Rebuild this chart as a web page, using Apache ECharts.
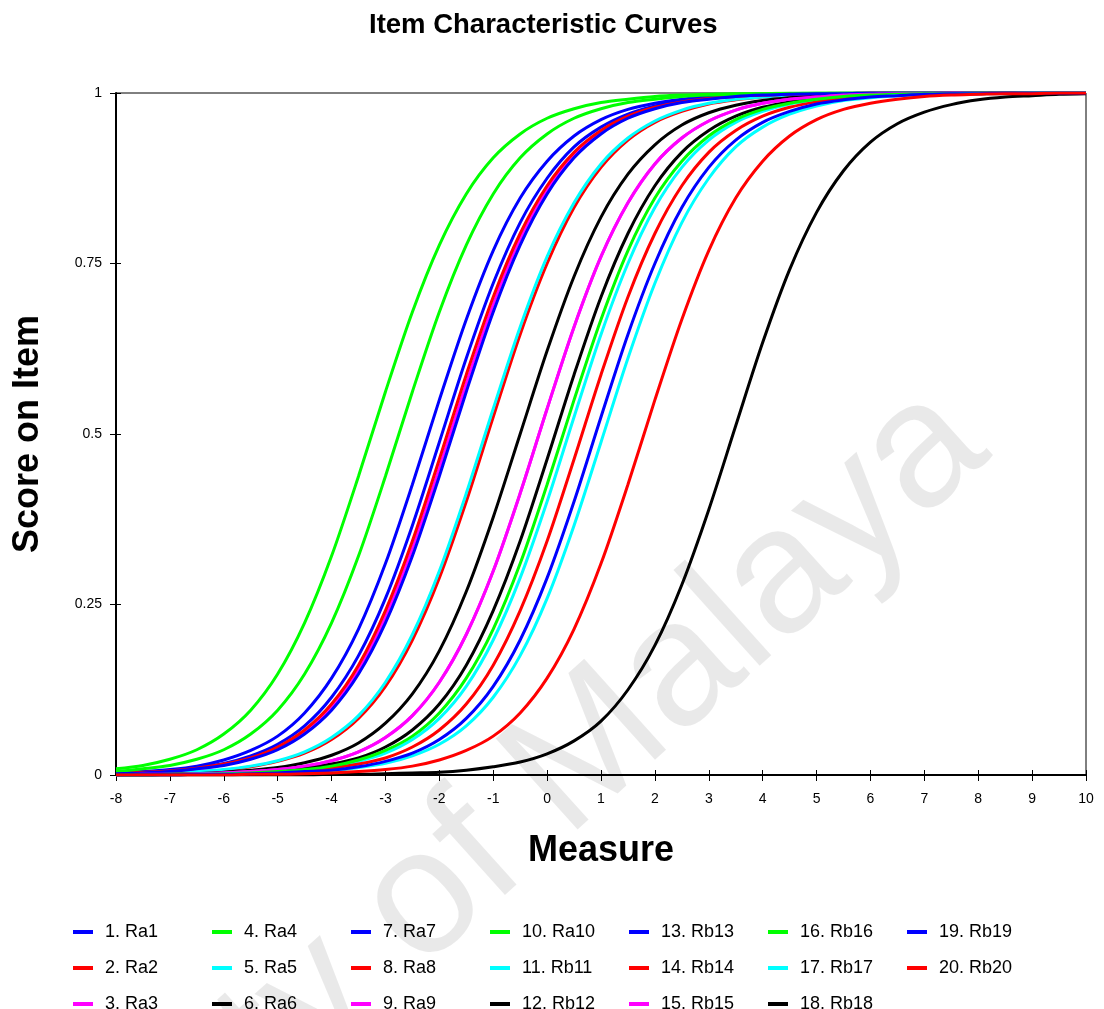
<!DOCTYPE html>
<html>
<head>
<meta charset="utf-8">
<script src="https://cdn.jsdelivr.net/npm/echarts@6/dist/echarts.min.js"></script>
<style>
html,body{margin:0;padding:0;background:#fff;}
#chart{width:1104px;height:1009px;}
</style>
</head>
<body>
<div id="chart"></div>
<script>
// Measure values (x) where each curve was read, and axis tick labels
const xValues = [-8,-7.5,-7,-6.5,-6,-5.5,-5,-4.5,-4,-3.5,-3,-2.5,-2,-1.5,-1,-0.5,0,0.5,1,1.5,2,2.5,3,3.5,4,4.5,5,5.5,6,6.5,7,7.5,8,8.5,9,9.5,10];
const xTickLabels = ['-8','-7','-6','-5','-4','-3','-2','-1','0','1','2','3','4','5','6','7','8','9','10'];
const yTickLabels = ['0','0.25','0.5','0.75','1'];

// Item names (legend order 1..20)
const itemNames = ['1. Ra1','2. Ra2','3. Ra3','4. Ra4','5. Ra5','6. Ra6','7. Ra7','8. Ra8','9. Ra9','10. Ra10',
  '11. Rb11','12. Rb12','13. Rb13','14. Rb14','15. Rb15','16. Rb16','17. Rb17','18. Rb18','19. Rb19','20. Rb20'];
const itemColors = ['#0000ff','#ff0000','#ff00ff','#00ff00','#00ffff','#000000','#0000ff','#ff0000','#ff00ff','#00ff00',
  '#00ffff','#000000','#0000ff','#ff0000','#ff00ff','#00ff00','#00ffff','#000000','#0000ff','#ff0000'];

// Score on item read at each measure value (x = -8 ... 10, step 0.5)
const ra1  = [.003,.005,.008,.013,.022,.036,.057,.091,.142,.214,.310,.426,.550,.668,.769,.846,.900,.937,.961,.976,.985,.991,.995,.997,.998,.999,.999,1,1,1,1,1,1,1,1,1,1];
const ra2  = [.001,.002,.003,.005,.007,.012,.020,.032,.052,.083,.130,.198,.289,.401,.525,.646,.750,.832,.891,.931,.957,.973,.984,.990,.994,.996,.998,.999,.999,1,1,1,1,1,1,1,1];
const ra3  = [.002,.003,.006,.009,.015,.024,.039,.063,.100,.155,.232,.332,.450,.574,.690,.786,.858,.909,.943,.964,.978,.987,.992,.995,.997,.998,.999,.999,1,1,1,1,1,1,1,1,1];
const ra4  = [.009,.014,.023,.037,.060,.095,.148,.223,.321,.438,.562,.679,.777,.852,.905,.940,.963,.977,.986,.991,.995,.997,.998,.999,.999,1,1,1,1,1,1,1,1,1,1,1,1];
const ra5  = [.001,.002,.003,.005,.008,.013,.021,.034,.055,.087,.136,.206,.299,.413,.537,.657,.760,.839,.896,.934,.959,.975,.985,.991,.994,.997,.998,.999,.999,1,1,1,1,1,1,1,1];
const ra6  = [.001,.001,.002,.002,.004,.007,.011,.018,.029,.047,.076,.119,.182,.269,.378,.500,.622,.731,.818,.881,.924,.953,.971,.982,.989,.993,.996,.998,.998,.999,.999,1,1,1,1,1,1];
const ra7  = [.002,.004,.006,.011,.017,.028,.045,.072,.114,.175,.259,.366,.488,.611,.721,.810,.875,.921,.950,.969,.981,.989,.993,.996,.997,.998,.999,.999,1,1,1,1,1,1,1,1,1];
const ra8  = [.002,.004,.006,.010,.016,.025,.041,.066,.104,.161,.241,.343,.463,.587,.701,.794,.864,.913,.945,.966,.979,.987,.992,.995,.997,.998,.999,.999,1,1,1,1,1,1,1,1,1];
const ra9  = [0,.001,.001,.002,.003,.005,.008,.013,.021,.034,.055,.087,.136,.206,.299,.413,.537,.657,.760,.839,.896,.934,.959,.975,.985,.991,.994,.997,.998,.999,.999,1,1,1,1,1,1];
const ra10 = [.005,.009,.014,.023,.037,.060,.095,.148,.223,.321,.438,.562,.679,.777,.852,.905,.940,.963,.977,.986,.991,.995,.997,.998,.999,.999,1,1,1,1,1,1,1,1,1,1,1];
const rb11 = [0,0,.001,.001,.002,.003,.005,.007,.012,.020,.032,.052,.083,.130,.198,.289,.401,.525,.646,.750,.832,.891,.931,.957,.973,.984,.990,.994,.996,.998,.999,.999,1,1,1,1,1];
const rb12 = [0,0,.001,.001,.002,.004,.006,.010,.016,.025,.041,.066,.104,.161,.241,.343,.463,.587,.701,.794,.864,.913,.945,.966,.979,.987,.992,.995,.997,.998,.999,.999,1,1,1,1,1];
const rb13 = [.002,.003,.005,.009,.014,.023,.037,.060,.095,.148,.223,.321,.438,.562,.679,.777,.852,.905,.940,.963,.977,.986,.991,.995,.997,.998,.999,.999,1,1,1,1,1,1,1,1,1];
const rb14 = [0,0,0,.001,.001,.002,.004,.006,.010,.016,.025,.041,.066,.104,.161,.241,.343,.463,.587,.701,.794,.864,.913,.945,.966,.979,.987,.992,.995,.997,.998,.999,.999,1,1,1,1];
const rb15 = [0,.001,.001,.002,.003,.005,.008,.013,.021,.034,.055,.087,.136,.206,.299,.413,.537,.657,.760,.839,.896,.934,.959,.975,.985,.991,.994,.997,.998,.999,.999,1,1,1,1,1,1];
const rb16 = [0,0,.001,.001,.002,.003,.005,.008,.013,.022,.036,.057,.091,.142,.214,.310,.426,.550,.668,.769,.846,.900,.937,.961,.976,.985,.991,.995,.997,.998,.999,.999,1,1,1,1,1];
const rb17 = [0,0,0,.001,.001,.001,.002,.004,.006,.011,.017,.028,.045,.072,.114,.175,.259,.366,.488,.611,.721,.810,.875,.921,.950,.969,.981,.989,.993,.996,.997,.998,.999,.999,1,1,1];
const rb18 = [0,0,0,0,0,0,0,0,.001,.001,.002,.003,.004,.007,.012,.019,.031,.050,.079,.125,.190,.279,.389,.512,.634,.741,.825,.886,.928,.955,.972,.983,.990,.994,.996,.998,.999];
const rb19 = [0,0,0,.001,.001,.002,.003,.005,.007,.012,.020,.032,.052,.083,.130,.198,.289,.401,.525,.646,.750,.832,.891,.931,.957,.973,.984,.990,.994,.996,.998,.999,.999,1,1,1,1];
const rb20 = [0,0,0,0,0,.001,.001,.002,.003,.005,.008,.013,.022,.036,.057,.091,.142,.214,.310,.426,.550,.668,.769,.846,.900,.937,.961,.976,.985,.991,.995,.997,.998,.999,.999,1,1];

const itemValues = [ra1,ra2,ra3,ra4,ra5,ra6,ra7,ra8,ra9,ra10,rb11,rb12,rb13,rb14,rb15,rb16,rb17,rb18,rb19,rb20];

const FONT = 'Liberation Sans, Arial, sans-serif';

const series = itemNames.map((name, i) => ({
  name: name,
  type: 'line',
  xAxisIndex: 0,
  yAxisIndex: 0,
  data: xValues.map((x, k) => [x, itemValues[i][k]]),
  showSymbol: false,
  smooth: 0.3,
  lineStyle: { width: 3, color: itemColors[i] },
  itemStyle: { color: itemColors[i] },
  emphasis: { disabled: true },
  z: 3
}));

// One legend per item, laid out column by column (3 rows) as in the original
const legends = itemNames.map((name, i) => ({
  data: [name],
  left: 68 + 139 * Math.floor(i / 3),
  top: 918 + 36 * (i % 3),
  icon: 'rect',
  itemWidth: 20,
  itemHeight: 4,
  selectedMode: false,
  textStyle: { fontFamily: FONT, fontSize: 18, color: '#000', padding: [0,0,0,7] }
}));

const chart = echarts.init(document.getElementById('chart'), null, { renderer: 'canvas' });
chart.setOption({
  animation: false,
  backgroundColor: '#fff',
  title: {
    text: 'Item Characteristic Curves',
    left: 364,
    top: 6,
    textStyle: { fontFamily: FONT, fontSize: 27.5, fontWeight: 'bold', color: '#000' }
  },
  graphic: [{
    type: 'text',
    x: 365, y: 955,
    rotation: 42 * Math.PI / 180,
    z: 0,
    silent: true,
    style: {
      text: 'University of Malaya',
      fontFamily: FONT,
      fontSize: 178,
      fill: 'rgba(0,0,0,0.085)',
      textAlign: 'center',
      textVerticalAlign: 'middle'
    }
  }],
  legend: legends,
  grid: { left: 116, right: 18, top: 93, bottom: 234, show: true, borderColor: '#000', borderWidth: 1, backgroundColor: 'transparent' },
  xAxis: [{
    type: 'value', min: -8, max: 10, interval: 1,
    name: 'Measure', nameLocation: 'middle', nameGap: 58,
    nameTextStyle: { fontFamily: FONT, fontSize: 36, fontWeight: 'bold', color: '#000' },
    axisLine: { onZero: false, lineStyle: { color: '#000', width: 2 } },
    axisTick: { show: true, length: 6, lineStyle: { color: '#000' } },
    axisLabel: { fontFamily: FONT, fontSize: 14, color: '#000', margin: 17,
      formatter: v => xTickLabels[Math.round(v) + 8] },
    splitLine: { show: false }
  }, {
    type: 'value', min: -8, max: 10, interval: 1, position: 'bottom', offset: 0,
    axisLine: { show: false, onZero: false },
    axisTick: { show: true, inside: true, length: 5, lineStyle: { color: '#000' } },
    axisLabel: { show: false }, splitLine: { show: false }
  }],
  yAxis: [{
    type: 'value', min: 0, max: 1, interval: 0.25,
    name: 'Score on Item', nameLocation: 'middle', nameGap: 70, nameRotate: 90,
    nameTextStyle: { fontFamily: FONT, fontSize: 36, fontWeight: 'bold', color: '#000' },
    axisLine: { show: true, onZero: false, lineStyle: { color: '#000', width: 2 } },
    axisTick: { show: true, length: 6, lineStyle: { color: '#000' } },
    axisLabel: { fontFamily: FONT, fontSize: 14, color: '#000', margin: 14,
      formatter: v => yTickLabels[Math.round(v * 4)] },
    splitLine: { show: false }
  }, {
    type: 'value', min: 0, max: 1, interval: 0.25, position: 'left', offset: 0,
    axisLine: { show: false, onZero: false },
    axisTick: { show: true, inside: true, length: 5, lineStyle: { color: '#000' } },
    axisLabel: { show: false }, splitLine: { show: false }
  }],
  series: series
});
</script>
</body>
</html>
